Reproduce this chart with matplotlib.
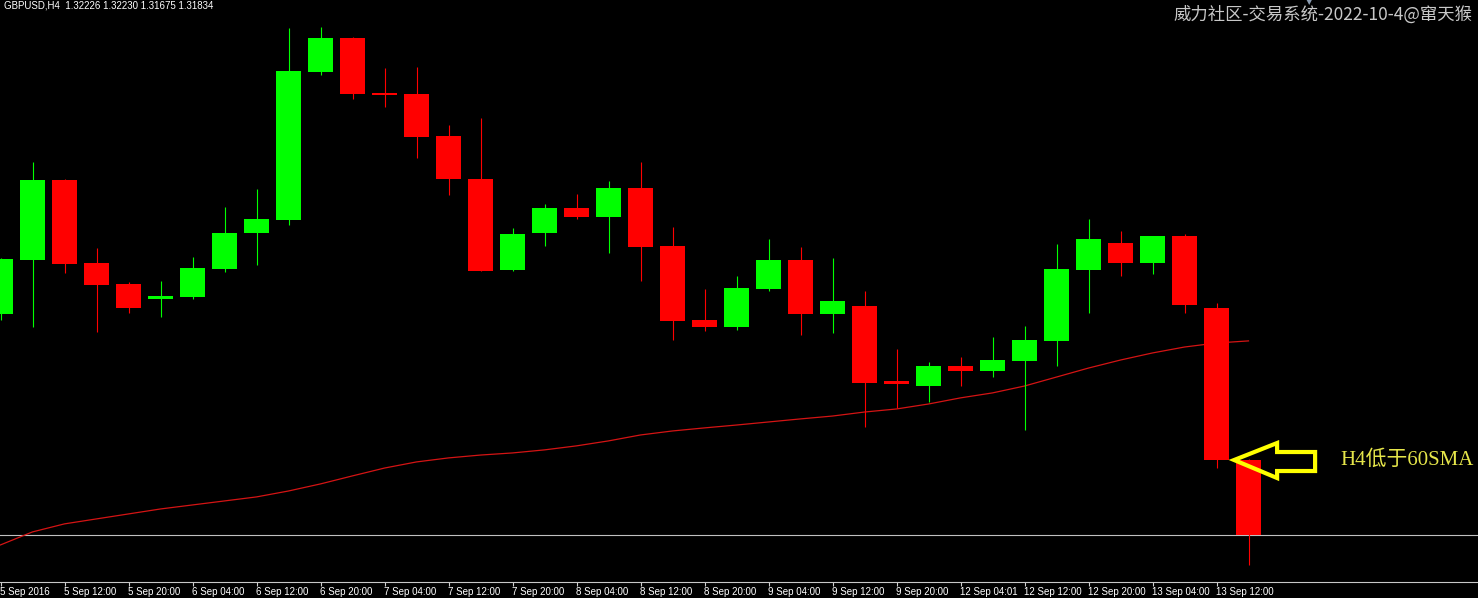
import matplotlib
matplotlib.use("Agg")
import matplotlib.pyplot as plt
from matplotlib.patches import Rectangle, Polygon
from matplotlib.transforms import IdentityTransform
import numpy as np

# ---------------- data (GBPUSD H4) ----------------
opens = [1.32990, 1.33272, 1.33691, 1.33257, 1.33147, 1.33068, 1.33079, 1.33225,
         1.33413, 1.33481, 1.34256, 1.34433, 1.34146, 1.34140, 1.33921, 1.33696,
         1.33220, 1.33413, 1.33544, 1.33497, 1.33649, 1.33345, 1.32958, 1.32922,
         1.33121, 1.33272, 1.32990, 1.33032, 1.32637, 1.32613, 1.32718, 1.32692,
         1.32744, 1.32849, 1.33220, 1.33361, 1.33257, 1.33398, 1.33021, 1.32226]
highs = [1.33283, 1.33785, 1.33694, 1.33335, 1.33157, 1.33162, 1.33288, 1.33549,
         1.33644, 1.34486, 1.34491, 1.34436, 1.34276, 1.34282, 1.33978, 1.34015,
         1.33440, 1.33565, 1.33617, 1.33685, 1.33785, 1.33445, 1.33121, 1.33189,
         1.33382, 1.33340, 1.33283, 1.33110, 1.32807, 1.32739, 1.32765, 1.32870,
         1.32927, 1.33356, 1.33487, 1.33424, 1.33400, 1.33408, 1.33047, 1.32230]
lows = [1.32958, 1.32922, 1.33204, 1.32896, 1.32995, 1.32974, 1.33068, 1.33210,
        1.33246, 1.33455, 1.34240, 1.34114, 1.34072, 1.33806, 1.33612, 1.33212,
        1.33215, 1.33345, 1.33487, 1.33309, 1.33162, 1.32854, 1.32901, 1.32906,
        1.33110, 1.32880, 1.32891, 1.32399, 1.32498, 1.32530, 1.32613, 1.32660,
        1.32383, 1.32718, 1.32995, 1.33189, 1.33199, 1.32995, 1.32184, 1.31675]
closes = [1.33277, 1.33691, 1.33251, 1.33142, 1.33021, 1.33084, 1.33230, 1.33413,
          1.33487, 1.34261, 1.34433, 1.34140, 1.34135, 1.33916, 1.33696, 1.33215,
          1.33408, 1.33544, 1.33497, 1.33649, 1.33340, 1.32953, 1.32922, 1.33126,
          1.33272, 1.32990, 1.33058, 1.32629, 1.32626, 1.32718, 1.32692, 1.32749,
          1.32854, 1.33225, 1.33382, 1.33257, 1.33398, 1.33037, 1.32226, 1.31834]
sma60 = [1.31782, 1.31850, 1.31892, 1.31918, 1.31944, 1.31970, 1.31991, 1.32012,
         1.32033, 1.32064, 1.32101, 1.32143, 1.32184, 1.32216, 1.32237, 1.32252,
         1.32263, 1.32279, 1.32300, 1.32326, 1.32357, 1.32378, 1.32394, 1.32409,
         1.32425, 1.32441, 1.32456, 1.32477, 1.32493, 1.32519, 1.32551, 1.32577,
         1.32613, 1.32660, 1.32707, 1.32749, 1.32786, 1.32817, 1.32838, 1.32849]
tick_labels = ["5 Sep 2016", "5 Sep 12:00", "5 Sep 20:00", "6 Sep 04:00", "6 Sep 12:00",
               "6 Sep 20:00", "7 Sep 04:00", "7 Sep 12:00", "7 Sep 20:00", "8 Sep 04:00",
               "8 Sep 12:00", "8 Sep 20:00", "9 Sep 04:00", "9 Sep 12:00", "9 Sep 20:00",
               "12 Sep 04:01", "12 Sep 12:00", "12 Sep 20:00", "13 Sep 04:00", "13 Sep 12:00"]
bid_price = 1.31834
header = "GBPUSD,H4  1.32226 1.32230 1.31675 1.31834"
watermark = "威力社区-交易系统-2022-10-4@窜天猴"
note = "H4低于60SMA"
signal_bar = 38

# ---------------- figure ----------------
W, H = 1478, 598
fig = plt.figure(figsize=(W / 100, H / 100), dpi=100, facecolor="black")
ax = fig.add_axes([0, 16 / H, 1, 582 / H])
ax.set_facecolor("black")

bar_px = 32.0
ax.set_xlim(-0.5 / bar_px, (W - 0.5) / bar_px)
ax.set_ylim(1.31588, 1.34632)
price_per_px = (1.34632 - 1.31588) / 582.0

x = np.arange(len(opens))

ax.axhline(bid_price, color="#c0c0c0", lw=0.8, zorder=1)
ax.plot(x, sma60, color="#d41414", lw=0.9, zorder=2)

body_w = 0.78
min_h = 2 * price_per_px
for i in range(len(opens)):
    o, h, l, c = opens[i], highs[i], lows[i], closes[i]
    col = "#00ff00" if c >= o else "#ff0000"
    ax.vlines(i, l, h, color=col, lw=0.8, zorder=3)
    lo, hi = min(o, c), max(o, c)
    if hi - lo < min_h:
        mid = (hi + lo) / 2
        lo, hi = mid - min_h / 2, mid + min_h / 2
    ax.add_patch(Rectangle((i - body_w / 2, lo), body_w, hi - lo,
                           facecolor=col, edgecolor="none", zorder=4))

# axes styling
for s in ["top", "left", "right"]:
    ax.spines[s].set_visible(False)
ax.spines["bottom"].set_color("#c8c8c8")
ax.spines["bottom"].set_linewidth(0.8)
ax.set_yticks([])
ax.set_xticks(x[::2])
ax.set_xticklabels(tick_labels, ha="left", fontsize=7, color="white",
                   family="Liberation Sans")
ax.tick_params(axis="x", direction="out", length=3, width=0.8,
               color="#d0d0d0", pad=0.5)

# yellow outline arrow pointing at the signal bar close
fig.canvas.draw()
tip = ax.transData.transform((signal_bar + 0.55, closes[signal_bar]))
offs = [(0, 0), (43, 17), (43, 8), (81, 8), (81, -11), (43, -11), (43, -18)]
verts = [(tip[0] + dx, tip[1] + dy) for dx, dy in offs]
ax.add_patch(Polygon(verts, closed=True, fill=False, edgecolor="#ffff00",
                     lw=3, joinstyle="miter", transform=IdentityTransform(),
                     zorder=6, clip_on=False))
ax.annotate(note, xy=(signal_bar + 0.55, closes[signal_bar]),
            xytext=(106 * 0.72, 0), textcoords="offset points",
            ha="left", va="center", color="#e6e64a", fontsize=15,
            family=["Liberation Serif", "Noto Sans CJK SC"], zorder=7)

# texts
fig.text(4 / W, 1 - 6 / H, header, ha="left", va="center", color="white",
         fontsize=7, family="Liberation Sans")
fig.text(1472 / W, 1 - 15 / H, watermark, ha="right", va="center",
         color="#c8c8c8", fontsize=12.5,
         family=["Noto Sans CJK SC", "DejaVu Sans"])
fig.text(1309 / W, 1 - 2 / H, "▼", ha="center", va="center",
         color="#8a9bb0", fontsize=6, family="DejaVu Sans")

fig.savefig("out.png", dpi=100, facecolor="black")
